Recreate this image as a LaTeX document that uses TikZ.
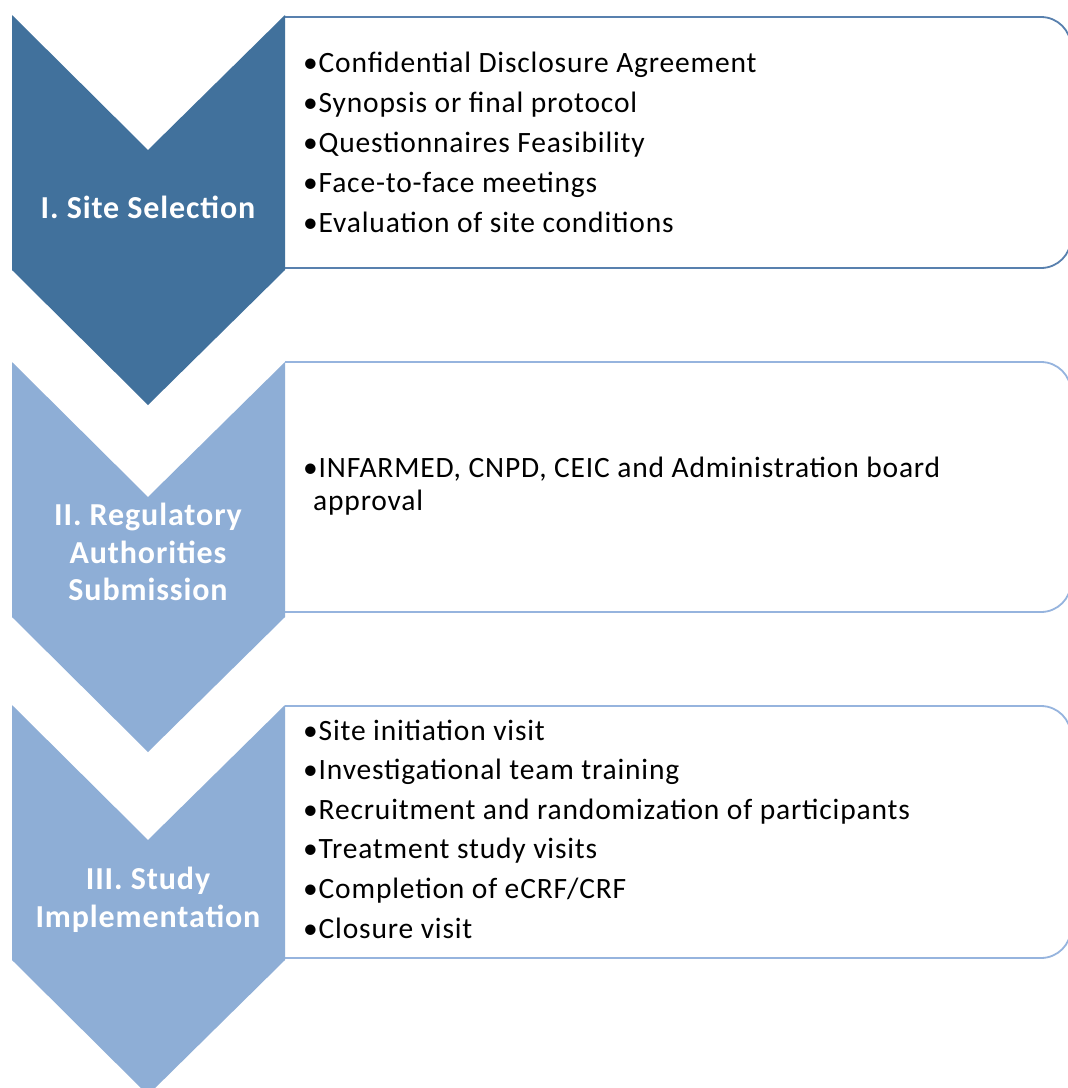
\documentclass[tikz,border=0pt]{standalone}
\usepackage{fontspec}
\setmainfont{Carlito}[LetterSpace=2.8]
\newfontfamily\labelfont{Carlito}[LetterSpace=2.8]
\definecolor{stepdark}{RGB}{65,113,156}
\definecolor{steplight}{RGB}{142,174,214}
\definecolor{edgedark}{RGB}{88,128,174}
\definecolor{edgelight}{RGB}{150,180,222}
\tikzset{
	note box/.style={draw=#1,line width=1.8pt,fill=white,rounded corners=30pt},
	step label/.style={text=white,inner sep=0pt,align=center,
		font=\labelfont\fontsize{32}{37.5}\bfseries\selectfont},
	note item/.style={anchor=base west,inner sep=0pt,
		font=\fontsize{29.5}{34}\selectfont},
}

\begin{document}
\begin{tikzpicture}[x=1pt,y=-1pt]
		\clip (0,0) rectangle (1068,1088);
		\fill[white] (0,0) rectangle (1068,1088);
		% boxes behind the chevrons
		\draw[note box=edgedark] (285,17) -- (1071,17) -- (1071,268) -- (285,268);
		\draw[note box=edgelight] (285,362) -- (1071,362) -- (1071,612) -- (285,612);
		\draw[note box=edgelight] (285,706) -- (1071,706) -- (1071,958) -- (285,958);
		% chevrons
		\fill[stepdark] (12,15) -- (148,150) -- (285,15) -- (285,270) -- (148,405) -- (12,270) -- cycle;
		\fill[steplight] (12,362) -- (148,497) -- (285,362) -- (285,617) -- (148,752) -- (12,617) -- cycle;
		\fill[steplight] (12,705) -- (148,840) -- (285,705) -- (285,960) -- (148,1095) -- (12,960) -- cycle;
		\node[step label] (sel) at (148,207) {I. Site Selection};
		\node[step label] (reg) at (148,552) {II. Regulatory\\Authorities\\Submission};
		\node[step label] (impl) at (148,900) {III. Study\\Implementation};
		% bullet lists
		\foreach \txt [count=\i] in {Confidential Disclosure Agreement,Synopsis or final protocol,
			Questionnaires Feasibility,Face-to-face meetings,Evaluation of site conditions}
			\node[note item] (sel-\i) at (303,32+40*\i) {•\txt};
		\node[note item] (reg-1) at (303,477) {•INFARMED, CNPD, CEIC and Administration board};
		\node[note item] (reg-2) at (313,510) {approval};
		\foreach \txt [count=\i] in {Site initiation visit,Investigational team training,
			Recruitment and randomization of participants,Treatment study visits,
			Completion of eCRF/CRF,Closure visit}
			\node[note item] (impl-\i) at (303,700.4+39.6*\i) {•\txt};
\end{tikzpicture}
\end{document}
